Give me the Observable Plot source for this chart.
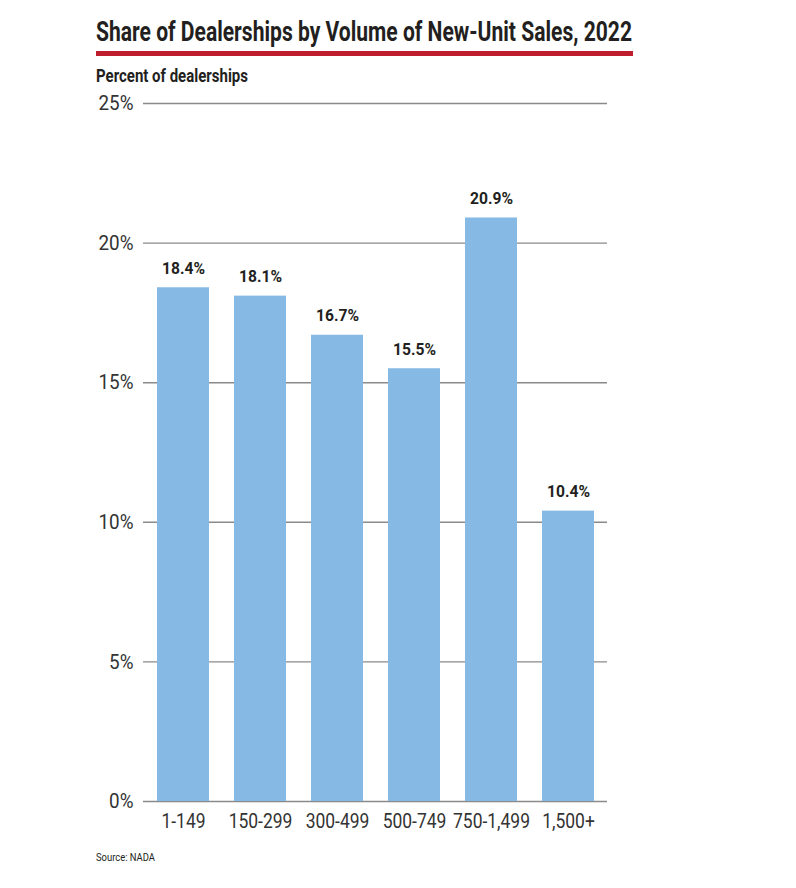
<!DOCTYPE html>
<html>
<head>
<meta charset="utf-8">
<script src="https://cdn.jsdelivr.net/npm/d3@7"></script>
<script src="https://cdn.jsdelivr.net/npm/@observablehq/plot@0.6"></script>
<style>
  body { margin: 0; background: #fff; font-family: Roboto, "DejaVu Sans", sans-serif; color: #231f20; }
  #wrap { position: relative; width: 796px; height: 888px; overflow: hidden; }
  .fit { position: absolute; left: 96px; white-space: nowrap; transform-origin: 0 0; line-height: 1; }
  #title { top: 18px; font-size: 28px; font-weight: bold; }
  #rule { position: absolute; left: 96px; top: 51px; width: 537px; height: 5px; background: #be1e2d; }
  #sub { top: 67px; font-size: 18px; font-weight: bold; }
  #chart { position: absolute; left: 0; top: 85px; }
  #source { top: 853px; font-size: 10.5px; color: #231f20; }
  svg text { font-family: Roboto, "DejaVu Sans", sans-serif; }
</style>
</head>
<body>
<div id="wrap">
  <div id="title" class="fit">Share of Dealerships by Volume of New-Unit Sales, 2022</div>
  <div id="rule"></div>
  <div id="sub" class="fit">Percent of dealerships</div>
  <div id="chart"></div>
  <div id="source" class="fit">Source: NADA</div>
</div>
<script>
const categories = ["1-149", "150-299", "300-499", "500-749", "750-1,499", "1,500+"];
const values = [18.4, 18.1, 16.7, 15.5, 20.9, 10.4];
const yTicks = [0, 5, 10, 15, 20, 25];

const data = categories.map((c, i) => ({category: c, value: values[i]}));

const chart = Plot.plot({
  width: 796,
  height: 760,
  marginLeft: 143,
  marginRight: 189,
  marginTop: 18,
  marginBottom: 44,
  style: {background: "transparent", color: "#231f20"},
  x: {domain: categories, paddingInner: 0.33, paddingOuter: 0.155, label: null, tickSize: 0, tickPadding: 12},
  y: {domain: [0, 25], ticks: yTicks, tickFormat: d => d + "%", label: null, tickSize: 0, tickPadding: 10},
  marks: [
    Plot.ruleY(yTicks, {stroke: "#8a8a8a", strokeWidth: 1.4}),
    Plot.barY(data, {x: "category", y: "value", fill: "#86b9e3"}),
    Plot.text(data, {x: "category", y: "value", text: d => d.value.toFixed(1) + "%", lineAnchor: "bottom", dy: -14, fontSize: 17, fontWeight: "bold", fill: "#231f20"})
  ]
});

d3.select(chart).selectAll("g[aria-label='y-axis tick label'], g[aria-label='x-axis tick label']")
  .attr("font-size", 21).attr("fill", "#333").attr("font-weight", 400);
document.getElementById("chart").appendChild(chart);

// condense HTML text to reference widths
function fitHtml(id, target) {
  const el = document.getElementById(id);
  const w = el.getBoundingClientRect().width;
  el.style.transform = `scaleX(${target / w})`;
}
fitHtml("title", 536);
fitHtml("sub", 152);
fitHtml("source", 59);

// condense SVG texts by a factor derived from a reference string width
function fitSvg(selector, refText, refWidth) {
  const texts = Array.from(chart.querySelectorAll(selector));
  const ref = texts.find(t => t.textContent === refText);
  const factor = refWidth / ref.getComputedTextLength();
  texts.forEach(t => {
    const w = t.getComputedTextLength();
    t.setAttribute("textLength", w * factor);
    t.setAttribute("lengthAdjust", "spacingAndGlyphs");
  });
}
fitSvg("g[aria-label='x-axis tick label'] text", "750-1,499", 77);
fitSvg("g[aria-label='y-axis tick label'] text", "25%", 35);
fitSvg("g[aria-label='text'] text", "18.4%", 43);
</script>
</body>
</html>
